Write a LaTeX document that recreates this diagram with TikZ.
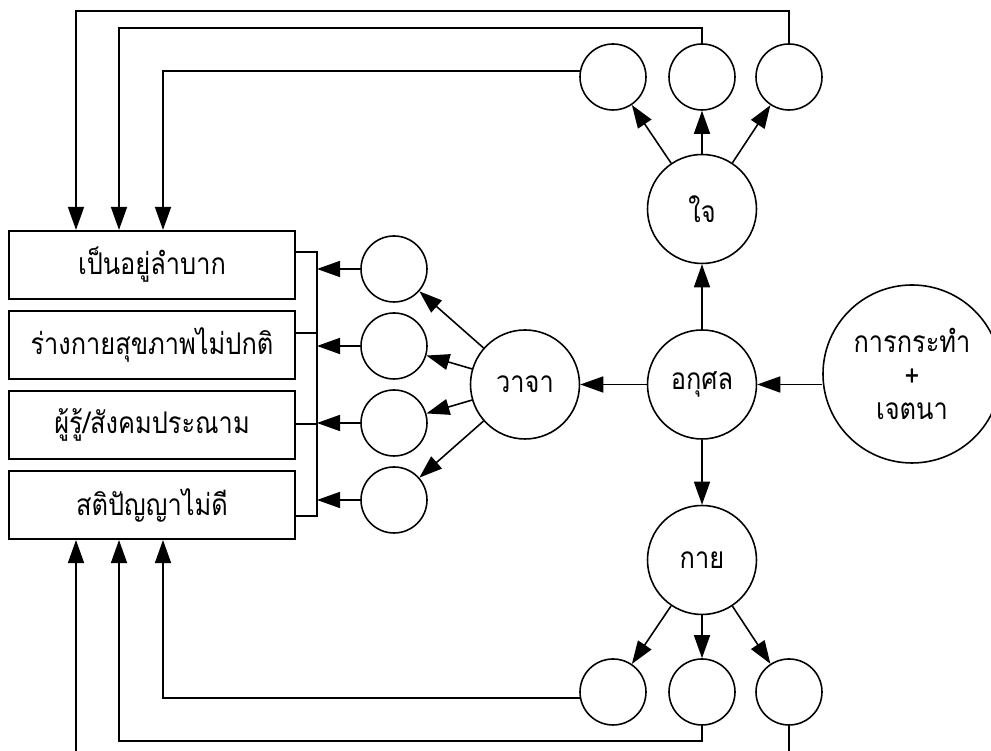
\documentclass[tikz,border=0pt]{standalone}
\usepackage{fontspec}
\newfontfamily\thaifont[Script=Thai,FakeStretch=0.85]{Loma}
\usetikzlibrary{arrows.meta}

\tikzset{every picture/.style={line width=0.9pt}}
\tikzstyle{small}=[draw,circle,minimum size=1.32cm,inner sep=0pt]
\tikzstyle{big}=[draw,circle,minimum size=2.18cm,inner sep=0pt,font=\thaifont\fontsize{17pt}{19pt}\selectfont]
\tikzstyle{result}=[draw,rectangle,line width=1.2pt,minimum width=5.72cm,minimum height=1.36cm,inner sep=0pt,font=\thaifont\fontsize{17pt}{19pt}\selectfont]

\begin{document}
\begin{tikzpicture}
	\useasboundingbox (0,0) rectangle (19.82,15.02);
	\begin{scope}[>={Triangle[length=4.6mm,width=3.2mm]}] % filled tips
		\foreach \nr/\txt in {1/เป็นอยู่ลำบาก, 2/ร่างกายสุขภาพไม่ปกติ, 3/{ผู้รู้/สังคมประณาม}, 4/สติปัญญาไม่ดี}{
			\node (b\nr)[result] at (3.04,{9.72-(\nr-1)*1.6}) {\txt};
			\node (v\nr)[small] at (7.88,{9.64-(\nr-1)*1.54}) {};
		}
		\node (vaja)[big] at (10.5,7.33) {วาจา};
		\node (akusol)[big] at (14.04,7.33) {อกุศล};
		\node (jai)[big] at (14.04,10.84) {ใจ};
		\node (kai)[big] at (14.04,3.82) {กาย};
		\node (act)[big,minimum size=3.56cm,align=center] at (18.24,7.54) {การกระทำ\\+\\เจตนา};
		\foreach \nr/\x in {1/12.26, 2/14.04, 3/15.78}{
			\node (t\nr)[small] at (\x,13.48) {};
			\node (k\nr)[small] at (\x,1.18) {};
			\draw[->] (jai) -- (t\nr);
			\draw[->] (kai) -- (k\nr);
		}
		% bracket in front of the boxes
		\coordinate (s1) at (6.34,9.98);
		\coordinate (s2) at (6.34,8.36);
		\coordinate (s3) at (6.34,6.54);
		\coordinate (s4) at (6.34,4.70);
		\draw (b1.east |- s1) -- (s1) -- (s4) -- (b4.east |- s4);
		\draw (b2.east |- s2) -- (s2);
		\draw (b3.east |- s3) -- (s3);
		\foreach \nr in {1, ..., 4}{
			\draw[->] (v\nr) -- (v\nr -| s1);
			\draw[->] (vaja) -- (v\nr);
		}
		\draw[->] (act.west |- akusol) -- (akusol);
		\draw[->] (akusol) -- (vaja);
		\draw[->] (akusol) -- (jai);
		\draw[->] (akusol) -- (kai);
		% feedback lines to the boxes
		\coordinate (top1) at (1.52,14.80);
		\coordinate (top2) at (2.38,14.46);
		\coordinate (col3) at (3.26,0);
		\coordinate (bot1) at (1.52,0);
		\coordinate (bot2) at (2.38,0.20);
		\draw[->] (t3.north) |- (top1) -- (top1 |- b1.north);
		\draw[->] (t2.north) |- (top2) -- (top2 |- b1.north);
		\draw[->] (t1.170) -| (col3 |- b1.north);
		\draw[->] (k1.190) -| (col3 |- b4.south);
		\draw[->] (k2.south) |- (bot2) -- (bot2 |- b4.south);
		\draw (k3.south) -- (k3 |- bot1);
		\draw[->] (bot1) -- (bot1 |- b4.south);
	\end{scope}
\end{tikzpicture}
\end{document}
